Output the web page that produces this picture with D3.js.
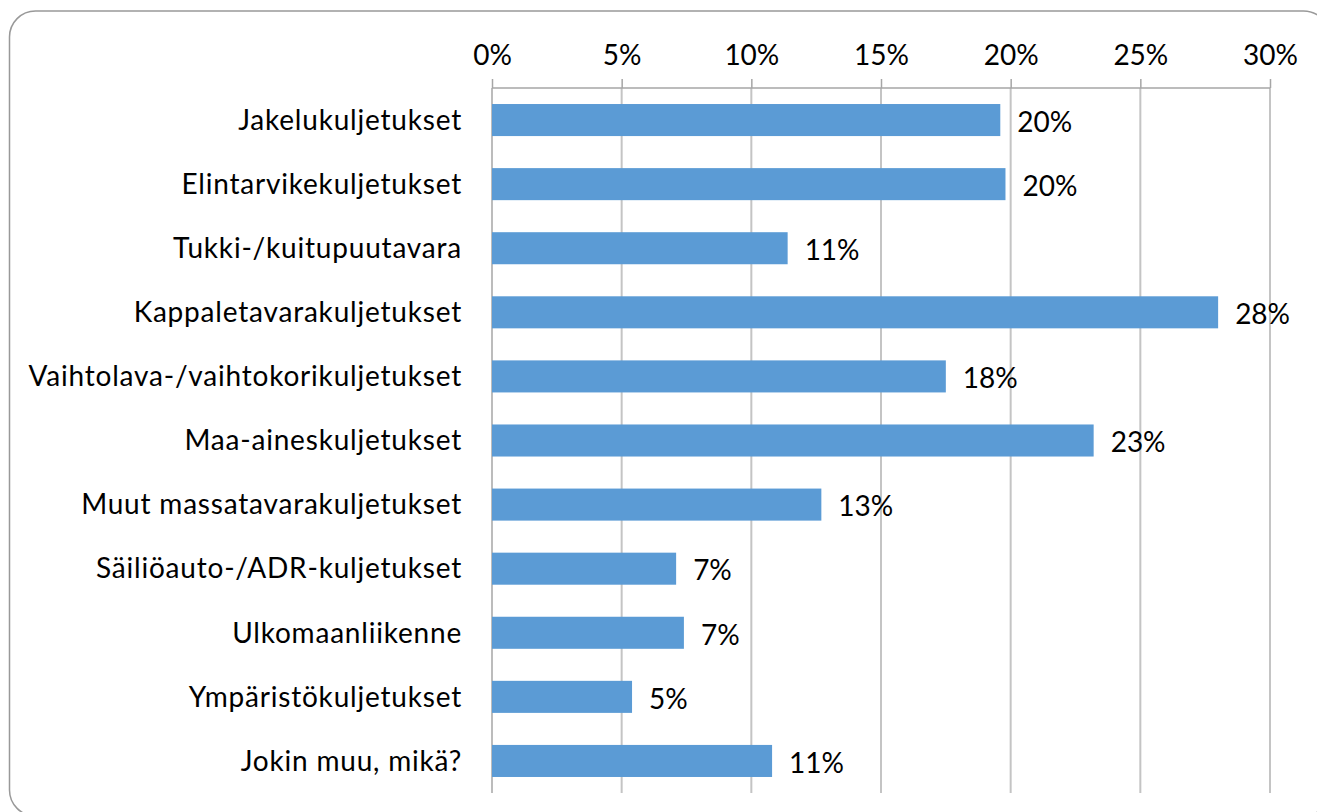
<!DOCTYPE html>
<html>
<head>
<meta charset="utf-8">
<script src="https://cdn.jsdelivr.net/npm/d3@7"></script>
<style>
  body { margin: 0; background: #fff; }
  text { font-family: Lato, "Open Sans", sans-serif; }
</style>
</head>
<body>
<div id="chart-area"></div>
<script>
/*
*    chart
*/

const categories = [
    "Jakelukuljetukset",
    "Elintarvikekuljetukset",
    "Tukki-/kuitupuutavara",
    "Kappaletavarakuljetukset",
    "Vaihtolava-/vaihtokorikuljetukset",
    "Maa-aineskuljetukset",
    "Muut massatavarakuljetukset",
    "Säiliöauto-/ADR-kuljetukset",
    "Ulkomaanliikenne",
    "Ympäristökuljetukset",
    "Jokin muu, mikä?"
];
const values = [19.6, 19.8, 11.4, 28.0, 17.5, 23.2, 12.7, 7.1, 7.4, 5.4, 10.8];
const ticks = [0, 5, 10, 15, 20, 25, 30];

const W = 1317, H = 812;
const margin = {left: 492, right: 47, top: 88, bottom: 19};
const width = W - margin.left - margin.right;
const height = H - margin.top - margin.bottom;
const fontSize = "28px";

const svg = d3.select("#chart-area")
    .append("svg")
    .attr("width", W)
    .attr("height", H);

// frame
svg.append("rect")
    .attr("x", 9.5)
    .attr("y", 11)
    .attr("width", 1320)
    .attr("height", 805)
    .attr("rx", 26)
    .attr("fill", "white")
    .attr("stroke", "#999")
    .attr("stroke-width", 1.5);

const g = svg.append("g")
    .attr("transform", "translate(" + margin.left + "," + margin.top + ")");

const x = d3.scaleLinear()
    .domain([0, 30])
    .range([0, width]);

const y = d3.scaleBand()
    .domain(categories)
    .range([0, height])
    .paddingInner(0.5)
    .paddingOuter(0.25);

// gridlines
g.selectAll(".grid")
    .data(ticks.slice(1))
    .enter()
    .append("line")
        .attr("class", "grid")
        .attr("x1", d => x(d))
        .attr("x2", d => x(d))
        .attr("y1", 0)
        .attr("y2", height)
        .attr("stroke", "#c4c4c4")
        .attr("stroke-width", 2);

const topAxis = d3.axisTop(x)
    .tickValues(ticks)
    .tickSize(9)
    .tickPadding(14)
    .tickFormat(d => d + "%");

g.append("g")
    .attr("class", "top axis")
    .call(topAxis);

g.append("line")
    .attr("x1", 0)
    .attr("x2", 0)
    .attr("y1", 0)
    .attr("y2", height)
    .attr("stroke", "#a6a6a6")
    .attr("stroke-width", 1.5);

g.selectAll(".axis path")
    .attr("stroke", "#a6a6a6")
    .attr("stroke-width", 1.5)
    .attr("d", "M0,0H" + width);

g.selectAll(".axis line")
    .attr("stroke", "#a6a6a6")
    .attr("stroke-width", 1.5);

g.selectAll(".axis text")
    .attr("fill", "#000")
    .attr("font-size", fontSize);

// category labels
g.selectAll(".cat")
    .data(categories)
    .enter()
    .append("text")
        .attr("class", "cat")
        .attr("x", -30)
        .attr("y", d => y(d) + y.bandwidth() / 2)
        .attr("dy", "0.35em")
        .attr("text-anchor", "end")
        .attr("font-size", fontSize)
        .attr("letter-spacing", "0.8px")
        .attr("fill", "#000")
        .text(d => d);

// bars
g.selectAll(".bar")
    .data(values)
    .enter()
    .append("rect")
        .attr("class", "bar")
        .attr("x", 0)
        .attr("y", (d, i) => y(categories[i]))
        .attr("width", d => x(d))
        .attr("height", y.bandwidth())
        .attr("fill", "#5b9bd5");

// value labels
g.selectAll(".val")
    .data(values)
    .enter()
    .append("text")
        .attr("class", "val")
        .attr("x", d => x(d) + 17)
        .attr("y", (d, i) => y(categories[i]) + y.bandwidth() / 2 + 2)
        .attr("dy", "0.35em")
        .attr("font-size", fontSize)
        .attr("fill", "#000")
        .text(d => Math.round(d) + "%");
</script>
</body>
</html>
